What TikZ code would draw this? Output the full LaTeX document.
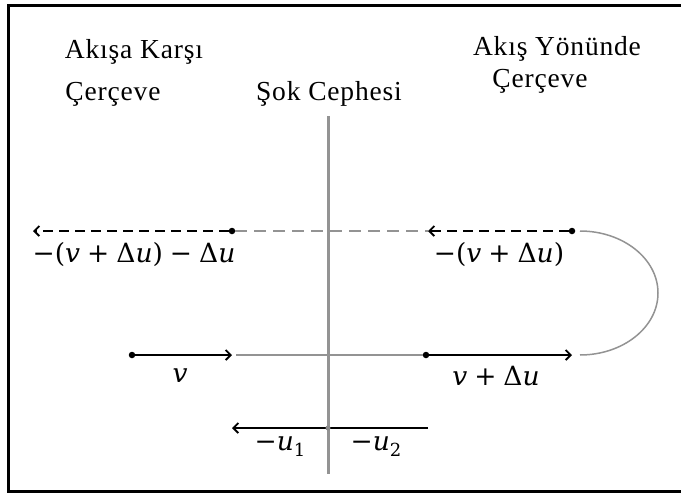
\documentclass[tikz,border=0pt]{standalone}
\usepackage{fontspec}
\setmainfont{Liberation Serif}
\newfontfamily\tfont[LetterSpace=3]{Liberation Serif}
\newfontfamily\mf{DejaVu Serif}
\newcommand\bsp{\hspace{7pt}}
\newcommand\sbs[1]{\raisebox{-0.25em}{\fontsize{18}{18}\selectfont #1}}
\usetikzlibrary{arrows.meta}
\begin{document}
\begin{tikzpicture}[x=1pt,y=-1pt,
  ttl/.style={font=\tfont\fontsize{27.5}{27.5}\selectfont, anchor=base, inner sep=0pt},
  lbl/.style={font=\mf\fontsize{26.5}{26.5}\selectfont, anchor=base, inner sep=0pt},
  dotb/.style={circle, fill=black, inner sep=0pt, minimum size=6.5pt},
  dotg/.style={circle, fill=gray!90, inner sep=0pt, minimum size=5pt},
  vec/.style={line width=1.9pt, -{Straight Barb[length=5pt,width=10pt]}},
  dvec/.style={vec, dash pattern=on 10pt off 6pt},
  gline/.style={gray!85, line width=1.5pt},
  gdash/.style={gline, dash pattern=on 12pt off 7pt},
  frame/.style={line width=3pt}
]
\useasboundingbox (0,0) rectangle (681,493);
% frame
\draw[frame] (8,493) -- (8,5.5) -- (681,5.5);
\draw[frame] (8,491) -- (681,491);

% titles
\node[ttl] (t1) at (134,58) {Akışa Karşı};
\node[ttl] (t2) at (113,100) {Çerçeve};
\node[ttl] (t3) at (329,100) {Şok Cephesi};
\node[ttl] (t4) at (557,55) {Akış Yönünde};
\node[ttl] (t5) at (540,87) {Çerçeve};

% shock line
\coordinate (sTop) at (328,116);
\coordinate (sBot) at (328,474);
\draw[gray!85, line width=3pt] (sTop) -- (sBot);

% top row
\node[dotb] (A) at (232,231) {};
\coordinate (Aend) at (33,231);
\coordinate (Bend) at (428,231);
\node[dotb] (B) at (572,231) {};
\draw[gdash] (A) -- (Bend);
\draw[dvec] (A) -- (Aend);
\draw[dvec] (B) -- (Bend);

% bottom row
\node[dotb] (C) at (132,355) {};
\coordinate (Cend) at (232,355);
\coordinate (Gs) at (236,355);
\node[dotb] (D) at (426,355) {};
\coordinate (Dend) at (572,355);
\draw[gline] (Gs) -- (D);
\draw[vec] (C) -- (Cend);
\draw[vec] (D) -- (Dend);

% return arc
\coordinate (arcS) at (580,231);
\draw[gray!85, line width=1.5pt] (arcS) arc[start angle=-90, end angle=90, x radius=78, y radius=62];

% u row
\coordinate (uR) at (428,428);
\coordinate (uL) at (232,428);
\draw[vec] (uR) -- (uL);
\node[dotg] (X) at (328,428) {};

% labels
\node[lbl] (l1) at (134,262) {−(\textit{v}\bsp+\bsp Δ\textit{u})\bsp−\bsp Δ\textit{u}};
\node[lbl] (l2) at (499,262) {−(\textit{v}\bsp+\bsp Δ\textit{u})};
\node[lbl] (l3) at (180,382) {\textit{v}};
\node[lbl] (l4) at (496,385) {\textit{v}\bsp+\bsp Δ\textit{u}};
\node[lbl] (l5) at (280,450) {−\textit{u}\sbs{1}};
\node[lbl] (l6) at (376,450) {−\textit{u}\sbs{2}};
\end{tikzpicture}
\end{document}
